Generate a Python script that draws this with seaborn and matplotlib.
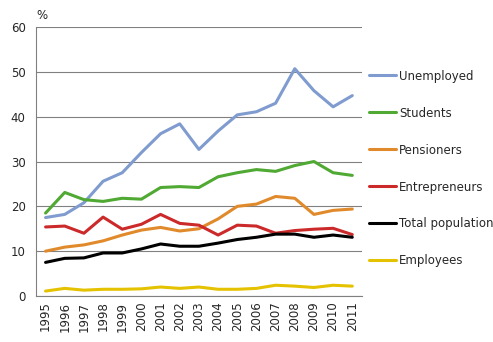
import matplotlib
matplotlib.use("Agg")
import matplotlib.pyplot as plt
import seaborn as sns
import pandas as pd
import numpy as np

years = list(range(1995, 2012))
unemployed = [17.5, 18.2, 20.8, 25.6, 27.5, 32.0, 36.2, 38.4, 32.7, 36.8, 40.4, 41.1, 43.0, 50.7, 45.8, 42.2, 44.7]
students = [18.5, 23.1, 21.5, 21.1, 21.8, 21.6, 24.2, 24.4, 24.2, 26.6, 27.5, 28.2, 27.8, 29.1, 30.0, 27.5, 26.9]
pensioners = [10.0, 10.9, 11.4, 12.3, 13.6, 14.7, 15.3, 14.5, 15.0, 17.2, 20.0, 20.5, 22.2, 21.8, 18.2, 19.1, 19.4]
entrepreneurs = [15.4, 15.6, 14.0, 17.6, 14.9, 16.0, 18.2, 16.2, 15.8, 13.6, 15.8, 15.6, 14.0, 14.6, 14.9, 15.1, 13.7]
total_population = [7.5, 8.4, 8.5, 9.6, 9.6, 10.5, 11.6, 11.1, 11.1, 11.8, 12.6, 13.1, 13.8, 13.8, 13.1, 13.6, 13.1]
employees = [1.1, 1.7, 1.3, 1.5, 1.5, 1.6, 2.0, 1.7, 2.0, 1.5, 1.5, 1.7, 2.4, 2.2, 1.9, 2.4, 2.2]

series_names = ["Unemployed", "Students", "Pensioners", "Entrepreneurs", "Total population", "Employees"]
series_values = [unemployed, students, pensioners, entrepreneurs, total_population, employees]
colors = ["#7F9BCF", "#4FA933", "#E08A2B", "#CC2A2A", "#000000", "#E5C200"]

rows = []
for name, vals in zip(series_names, series_values):
    for y, v in zip(years, vals):
        rows.append({"year": y, "value": v, "group": name})
df = pd.DataFrame(rows)

sns.set_style("white")
plt.rcParams['font.family'] = ['DejaVu Sans']

fig = plt.figure(figsize=(4.93, 3.42), dpi=100)
ax = fig.add_axes([0.073, 0.1345, 0.661, 0.7865])

sns.lineplot(data=df, x="year", y="value", hue="group", hue_order=series_names,
             palette=colors, linewidth=2.2, ax=ax, legend=True)

ax.set_xlim(1994.5, 2011.5)
ax.set_ylim(0, 60)
ax.set_yticks(range(0, 61, 10))
ax.set_xticks(years)
ax.set_xticklabels([str(y) for y in years], rotation=90, fontsize=8.5)
ax.set_xticks([y + 0.5 for y in [1994] + years], minor=True)
ax.tick_params(axis='x', which='major', length=0, pad=4)
ax.tick_params(axis='x', which='minor', length=5, color="#808080", width=0.8)
ax.tick_params(axis='y', which='major', length=4, color="#808080", width=0.8, labelsize=8.5)
ax.yaxis.grid(True, color="#808080", linewidth=0.8)
ax.set_axisbelow(True)
for s in ["top", "right"]:
    ax.spines[s].set_visible(False)
for s in ["left", "bottom"]:
    ax.spines[s].set_color("#808080")
    ax.spines[s].set_linewidth(0.8)
ax.set_xlabel("")
ax.set_ylabel("")
ax.text(0.0, 1.02, "%", transform=ax.transAxes, fontsize=8.5, ha="left", va="bottom")

handles, labels = ax.get_legend_handles_labels()
ax.legend(handles, labels, loc="upper left", bbox_to_anchor=(1.0, 0.868), frameon=False,
          fontsize=8.5, labelspacing=2.03, handlelength=2.3, handletextpad=0.25,
          borderaxespad=0.2)
for line in ax.get_legend().get_lines():
    line.set_linewidth(2.2)

fig.savefig("out.png", dpi=100)
